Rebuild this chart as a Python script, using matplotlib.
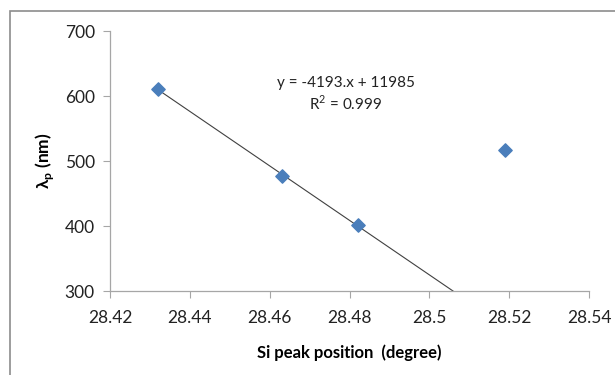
import numpy as np
import matplotlib
matplotlib.use("Agg")
import matplotlib.pyplot as plt
from matplotlib.patches import Rectangle

plt.rcParams['font.family'] = ['Lato', 'DejaVu Sans']
plt.rcParams['mathtext.fontset'] = 'custom'
plt.rcParams['mathtext.rm'] = 'Lato'
plt.rcParams['mathtext.bf'] = 'Lato:bold'

# data
si_peak = [28.432, 28.463, 28.482, 28.519]
lambda_p = [611, 477, 402, 517]
fit_count = 3  # trendline fitted to the first three points
x_ticks = [28.42, 28.44, 28.46, 28.48, 28.5, 28.52, 28.54]
x_tick_labels = ["28.42", "28.44", "28.46", "28.48", "28.5", "28.52", "28.54"]
y_ticks = [300, 400, 500, 600, 700]

fig = plt.figure(figsize=(6.15, 3.75), dpi=100)
ax = fig.add_axes([0.179, 0.224, 0.779, 0.693])

# outer chart border (cut off at the right and bottom edges)
fig.patches.append(Rectangle((10 / 615, -0.2), 1.2, 1.2 - 11 / 375,
                             transform=fig.transFigure, fill=False,
                             edgecolor='#8c8c8c', linewidth=1.2))

slope, icpt = np.polyfit(si_peak[:fit_count], lambda_p[:fit_count], 1)
xs = np.array([si_peak[0], 28.52])
ax.plot(xs, slope * xs + icpt, color='#404040', linewidth=0.8, zorder=2)

ax.scatter(si_peak, lambda_p, marker='D', s=46, color='#4a7ebb', zorder=3)

ax.set_xlim(28.42, 28.54)
ax.set_ylim(300, 700)
ax.set_xticks(x_ticks)
ax.set_xticklabels(x_tick_labels)
ax.set_yticks(y_ticks)

for side in ['top', 'right']:
    ax.spines[side].set_visible(False)
for side in ['left', 'bottom']:
    ax.spines[side].set_color('#a6a6a6')
    ax.spines[side].set_linewidth(0.9)
ax.tick_params(axis='both', direction='out', length=5, color='#a6a6a6',
               labelsize=12.5, labelcolor='#222222')
ax.tick_params(axis='x', pad=9)
ax.tick_params(axis='y', pad=6)

ax.set_xlabel('Si peak position  (degree)', fontsize=12, fontweight='bold',
              labelpad=13)
ax.set_ylabel(r'λ$_\mathbf{p}$ (nm)', fontsize=12.5, fontweight='bold',
              labelpad=6)

ax.text(28.479, 620, 'y = -4193.x + 11985', ha='center', va='center',
        fontsize=11, color='#222222')
ax.text(28.479, 589, 'R$^2$ = 0.999', ha='center', va='center',
        fontsize=11, color='#222222')

fig.savefig('out.png', dpi=100)
